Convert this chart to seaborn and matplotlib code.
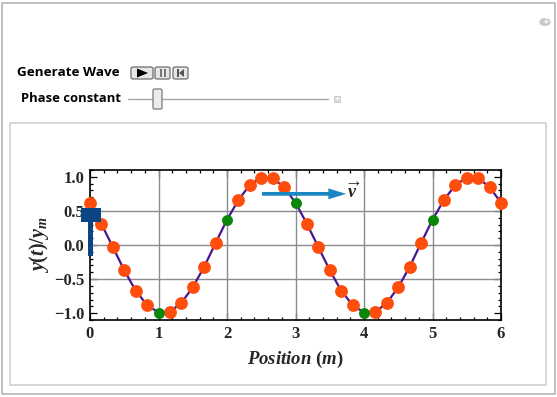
import numpy as np
import pandas as pd
import matplotlib
matplotlib.use("Agg")
import matplotlib.pyplot as plt
from matplotlib.patches import Rectangle, FancyBboxPatch, Polygon, Circle, FancyArrow
import seaborn as sns

# ---------------- data ----------------
positions = [i / 6 for i in range(37)]
displacement = [0.62, 0.31, -0.03, -0.37, -0.67, -0.88, -0.99, -0.98, -0.85, -0.62,
                -0.32, 0.03, 0.37, 0.66, 0.88, 0.99, 0.98, 0.85,
                0.62, 0.31, -0.03, -0.37, -0.67, -0.88, -0.99, -0.98, -0.85, -0.62,
                -0.32, 0.03, 0.37, 0.66, 0.88, 0.99, 0.98, 0.85, 0.62]
marker_kind = ["wave"] * 37
for k in (6, 12, 18, 24, 30):
    marker_kind[k] = "marker"
x_ticks = [0, 1, 2, 3, 4, 5, 6]
y_ticks = [-1.0, -0.5, 0.0, 0.5, 1.0]
y_tick_labels = ["\u22121.0", "\u22120.5", "0.0", "0.5", "1.0"]
x_label = r"$Position\ \mathrm{(}m\mathrm{)}$"
y_label = r"$y\mathrm{(}t\mathrm{)/}y_m$"
velocity_label = r"$\overrightarrow{v}$"

df = pd.DataFrame({"x": positions, "y": displacement, "kind": marker_kind})

sns.set_style("white")
plt.rcParams["font.family"] = ["DejaVu Sans"]
plt.rcParams["mathtext.fontset"] = "custom"
plt.rcParams["mathtext.rm"] = "Liberation Serif:bold"
plt.rcParams["mathtext.it"] = "Liberation Serif:italic:bold"
plt.rcParams["mathtext.bf"] = "Liberation Serif:bold"

W, H = 557, 397
fig = plt.figure(figsize=(W / 100, H / 100), dpi=100)
fig.patch.set_facecolor("white")

def fx(px):
    return px / W

def fy(py):
    return 1 - py / H

# outer frame and inner panel
fig.patches.append(Rectangle((fx(1.5), fy(394)), fx(553), (393 - 1.5) / H, transform=fig.transFigure,
                             facecolor="white", edgecolor="#b4b4b4", lw=1.2, zorder=0))
fig.patches.append(Rectangle((fx(10), fy(385)), fx(536), (385 - 123) / H, transform=fig.transFigure,
                             facecolor="white", edgecolor="#d0d0d0", lw=1.2, zorder=0))

# controls
ctl_font = ["Open Sans", "DejaVu Sans"]
fig.text(fx(17), fy(72), "Generate Wave", fontsize=9.7, fontweight="bold", va="center", ha="left",
         family=ctl_font, color="black")
fig.text(fx(121), fy(99), "Phase constant", fontsize=9.4, fontweight="bold", va="center", ha="right",
         family=ctl_font, color="black")
for (x0, x1) in [(131, 153), (155, 170), (173, 188)]:
    fig.patches.append(FancyBboxPatch((fx(x0), fy(79)), fx(x1 - x0), 12 / H,
                                      boxstyle="round,pad=0,rounding_size=0.004",
                                      transform=fig.transFigure, facecolor="#e6e6e6",
                                      edgecolor="#6e6e6e", lw=0.9))
fig.patches.append(Polygon([(fx(137), fy(68.5)), (fx(137), fy(77.5)), (fx(148), fy(73))],
                           closed=True, transform=fig.transFigure, facecolor="black", edgecolor="none"))
for xb in (160, 164):
    fig.patches.append(Rectangle((fx(xb), fy(77)), fx(1.5), 8 / H, transform=fig.transFigure,
                                 facecolor="#777777", edgecolor="none"))
fig.patches.append(Rectangle((fx(177), fy(77)), fx(1.5), 8 / H, transform=fig.transFigure,
                             facecolor="#555555", edgecolor="none"))
fig.patches.append(Polygon([(fx(184), fy(69)), (fx(184), fy(77)), (fx(179), fy(73))],
                           closed=True, transform=fig.transFigure, facecolor="#555555", edgecolor="none"))
fig.add_artist(plt.Line2D([fx(128), fx(328)], [fy(99), fy(99)], transform=fig.transFigure,
                          color="#a8a8a8", lw=1.0))
fig.patches.append(FancyBboxPatch((fx(153), fy(109)), fx(9), 20 / H,
                                  boxstyle="round,pad=0,rounding_size=0.003",
                                  transform=fig.transFigure, facecolor="#ececec",
                                  edgecolor="#7a7a7a", lw=0.9, zorder=2))
fig.patches.append(Rectangle((fx(334), fy(102)), fx(6), 6 / H, transform=fig.transFigure,
                             facecolor="#d8d8d8", edgecolor="#c0c0c0", lw=0.5))
fig.text(fx(337), fy(99), "+", fontsize=5, color="white", ha="center", va="center", fontweight="bold")
fig.patches.append(Circle((fx(545), fy(22)), 4 / H, transform=fig.transFigure,
                          facecolor="#c8c8c8", edgecolor="none"))
fig.text(fx(545), fy(22), "+", fontsize=5.5, color="white", ha="center", va="center", fontweight="bold")

# ---------------- main plot ----------------
ax = fig.add_axes([fx(90), fy(320), fx(411), 150 / H])
ax.set_zorder(10)
ax.patch.set_alpha(0)
ax.set_xlim(0, 6)
ax.set_ylim(-1.1, 1.1)

for gx in [1, 2, 3, 4, 5]:
    ax.axvline(gx, color="#8c8c8c", lw=1.0, zorder=1)
for gy in [-0.5, 0.0, 0.5]:
    ax.axhline(gy, color="#8c8c8c", lw=1.0, zorder=1)

sns.lineplot(data=df, x="x", y="y", sort=False, color="#4a1590", lw=1.6, ax=ax, zorder=3,
             estimator=None)
sns.scatterplot(data=df[df.kind == "wave"], x="x", y="y", color="#ff4d0d", s=85, linewidth=0,
                ax=ax, zorder=4, clip_on=False, legend=False)
sns.scatterplot(data=df[df.kind == "marker"], x="x", y="y", color="#0a870a", s=62, linewidth=0,
                ax=ax, zorder=5, clip_on=False, legend=False)

paddle_col = "#0b4584"
ax.add_patch(Rectangle((-0.132, 0.338), 0.289, 0.206, facecolor=paddle_col, edgecolor="none",
                       clip_on=False, zorder=6))
ax.add_patch(Rectangle((-0.034, -0.162), 0.078, 0.7, facecolor=paddle_col, edgecolor="none",
                       clip_on=False, zorder=6))

ax.add_patch(FancyArrow(2.51, 0.75, 1.23, 0.0, width=0.055, head_width=0.16, head_length=0.26,
                        length_includes_head=True, facecolor="#1a87c3", edgecolor="none", zorder=6))
ax.text(3.84, 0.78, velocity_label, fontsize=13, ha="center", va="center", zorder=7)

ax.set_xticks(x_ticks)
ax.set_xticklabels([str(t) for t in x_ticks])
ax.set_yticks(y_ticks)
ax.set_yticklabels(y_tick_labels)
ax.set_xticks(np.arange(0, 6.01, 0.2), minor=True)
ax.set_yticks(np.arange(-1.1, 1.101, 0.1), minor=True)
for lab in ax.get_xticklabels() + ax.get_yticklabels():
    lab.set_family("Liberation Serif")
    lab.set_fontweight("bold")
    lab.set_fontsize(12)
ax.tick_params(which="both", direction="in", top=True, right=True, bottom=True, left=True,
               color="black", width=0.9)
ax.tick_params(which="major", length=5, pad=4)
ax.tick_params(which="minor", length=2.5)
for s in ax.spines.values():
    s.set_color("black")
    s.set_linewidth(1.2)

ax.set_xlabel(x_label, fontsize=13.5, labelpad=5)
ax.set_ylabel(y_label, fontsize=14.5, labelpad=2)

fig.savefig("out.png", dpi=100, facecolor="white")
